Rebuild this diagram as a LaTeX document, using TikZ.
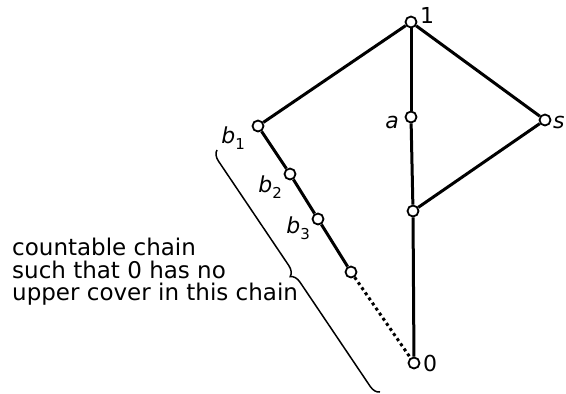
\documentclass[tikz,border=0pt]{standalone}
\usepackage{fontspec}
\setmainfont{DejaVu Sans}
\usetikzlibrary{decorations.pathreplacing}

\newcommand{\lsub}[1]{\raisebox{-0.3em}{\upshape\fontsize{15}{15}\selectfont #1}}

\begin{document}
\begin{tikzpicture}[
    x=1pt, y=-1pt,
    font=\fontsize{23}{22.5}\selectfont,
    vertex/.style={draw, circle, fill=white, line width=1.8pt, minimum size=11pt, inner sep=0pt},
    edge/.style={line width=3pt},
    chainedge/.style={line width=3pt, dash pattern=on 3pt off 3.2pt},
    vlabel/.style={font=\fontsize{22}{22}\selectfont\itshape, inner sep=0pt},
    chainbrace/.style={line width=1.5pt, decorate, decoration={brace, amplitude=10pt}},
    caption/.style={align=left, anchor=west, inner sep=0pt},
]
    \useasboundingbox (0,0) rectangle (566,394);

    % =====================================================================
    % VERTICES
    % =====================================================================
    \node[vertex] (one) at (411, 22) {};
    \node[vertex] (a) at (411, 117) {};
    \node[vertex] (s) at (545, 120) {};
    \node[vertex] (m) at (413, 211) {};
    \node[vertex] (zero) at (414, 363) {};
    \node[vertex] (b1) at (258, 126) {};
    \node[vertex] (b2) at (290, 174) {};
    \node[vertex] (b3) at (318, 219) {};
    \node[vertex] (b4) at (351, 272) {};

    % Vertex labels
    \node[vlabel, anchor=base west] at ([shift={(9, 1)}]one.center) {\upshape 1};
    \node[vlabel, anchor=base east] at ([shift={(-12, 11)}]a.center) {a};
    \node[vlabel, anchor=base west] at ([shift={(8, 8)}]s.center) {s};
    \node[vlabel, anchor=base east] at ([shift={(-13, 17)}]b1.center) {b\lsub{1}};
    \node[vlabel, anchor=base east] at ([shift={(-8, 18)}]b2.center) {b\lsub{2}};
    \node[vlabel, anchor=base east] at ([shift={(-8, 14)}]b3.center) {b\lsub{3}};
    \node[vlabel, anchor=base west] at ([shift={(9, 8)}]zero.center) {\upshape 0};

    % =====================================================================
    % EDGES
    % =====================================================================
    \draw[edge] (one) -- (b1);
    \draw[edge] (one) -- (a);
    \draw[edge] (one) -- (s);
    \draw[edge] (a) -- (m);
    \draw[edge] (s) -- (m);
    \draw[edge] (m) -- (zero);
    \draw[edge] (b1) -- (b2);
    \draw[edge] (b2) -- (b3);
    \draw[edge] (b3) -- (b4);
    \draw[chainedge] (b4) -- (zero);

    % =====================================================================
    % BRACE AND CAPTION
    % =====================================================================
    \coordinate (brace_bot) at (380, 392);
    \coordinate (brace_top) at (217, 150);
    \draw[chainbrace] (brace_bot) -- (brace_top);

    \node[caption] (chaintext) at (12, 272) {countable chain\\such that 0 has no\\upper cover in this chain};

\end{tikzpicture}
\end{document}
